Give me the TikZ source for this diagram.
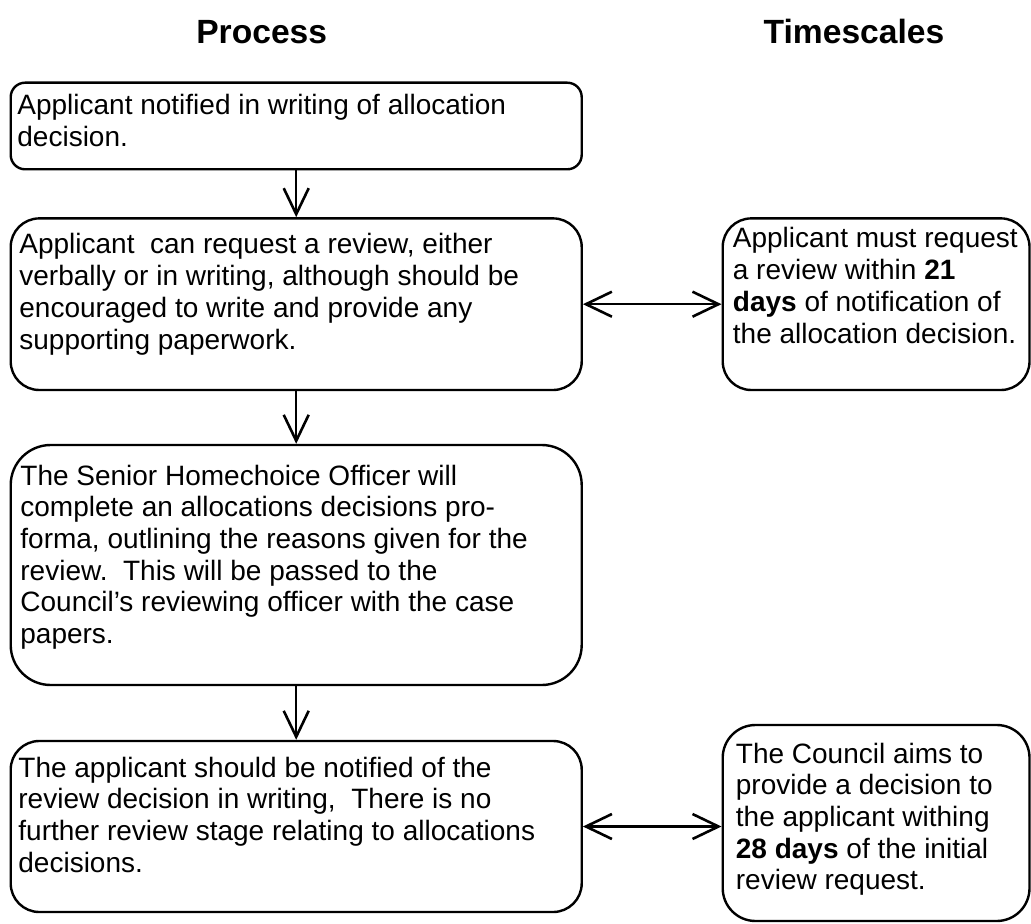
\documentclass[tikz,border=0pt]{standalone}
\usepackage{fontspec}
\setmainfont{Liberation Sans}
\usetikzlibrary{arrows.meta}
\frenchspacing
\tikzset{
  box/.style={draw, line width=1.2pt, inner sep=0pt, minimum width=285.5pt},
  txt/.style={anchor=base west, inner sep=0pt, font=\fontsize{14}{15.85}\selectfont},
  ttl/.style={anchor=base, inner sep=0pt, font=\fontsize{16.8}{20}\selectfont\bfseries},
  tip/.style={Straight Barb[length=13pt,width=12.5pt,line width=1.3pt]},
  arr/.style={-{Straight Barb[length=13pt,width=12.5pt,line width=1.3pt]}, line width=1.05pt},
  dbl/.style={{Straight Barb[length=13pt,width=12.5pt,line width=1.3pt]}-{Straight Barb[length=13pt,width=12.5pt,line width=1.3pt]}, line width=1.2pt}
}
\begin{document}
\begin{tikzpicture}[x=0.5pt,y=-0.5pt]
\useasboundingbox (0,0) rectangle (1031,924);
% titles
\node[ttl] (ptitle) at (261.7,43.3) {Process};
\node[ttl] (ttitle) at (854,43.3) {Timescales};
% left boxes
\node[box, minimum height=43.3pt, rounded corners=7.2pt] (b1) at (296.2,126) {};
\node[box, minimum height=85.8pt, rounded corners=14.3pt] (b2) at (296.2,304.2) {};
\node[box, minimum height=120pt, rounded corners=20pt] (b3) at (296.2,565) {};
\node[box, minimum height=85.5pt, rounded corners=14.3pt] (b4) at (296.2,826.5) {};
% right boxes
\node[box, minimum width=153.4pt, minimum height=85.8pt, rounded corners=14.3pt] (r1) at (876.1,304.2) {};
\node[box, minimum width=153.4pt, minimum height=98pt, rounded corners=16.4pt] (r2) at (876.1,823) {};
% texts
\node[txt] (t1) at (17,115) {\parbox[t]{290pt}{\raggedright
Applicant notified in writing of allocation\\
decision.}};
\node[txt] (t2) at (19,254) {\parbox[t]{290pt}{\raggedright
Applicant\ \ can request a review, either\\
verbally or in writing, although should be\\
encouraged to write and provide any\\
supporting paperwork.}};
\node[txt] (t3) at (20,485) {\parbox[t]{290pt}{\raggedright
The Senior Homechoice Officer will\\
complete an allocations decisions pro-\\
forma, outlining the reasons given for the\\
review.\ \ This will be passed to the\\
Council’s reviewing officer with the case\\
papers.}};
\node[txt] (t4) at (18,777) {\parbox[t]{290pt}{\raggedright
The applicant should be notified of the\\
review decision in writing,\ \ There is no\\
further review stage relating to allocations\\
decisions.}};
\node[txt] (t5) at (732.5,248) {\parbox[t]{160pt}{\raggedright
Applicant must request\\
a review within \textbf{21}\\
\textbf{days} of notification of\\
the allocation decision.}};
\node[txt] (t6) at (735.5,763) {\parbox[t]{160pt}{\raggedright
The Council aims to\\
provide a decision to\\
the applicant withing\\
\textbf{28 days} of the initial\\
review request.}};
% connectors
\draw[arr] (b1.south) -- (b2.north);
\draw[arr] (b2.south) -- (b3.north);
\draw[arr] (b3.south) -- (b4.north);
\draw[dbl] (b2.east) -- (r1.west);
\draw[dbl] (b4.east) -- (b4.east -| r2.west);
\end{tikzpicture}
\end{document}
